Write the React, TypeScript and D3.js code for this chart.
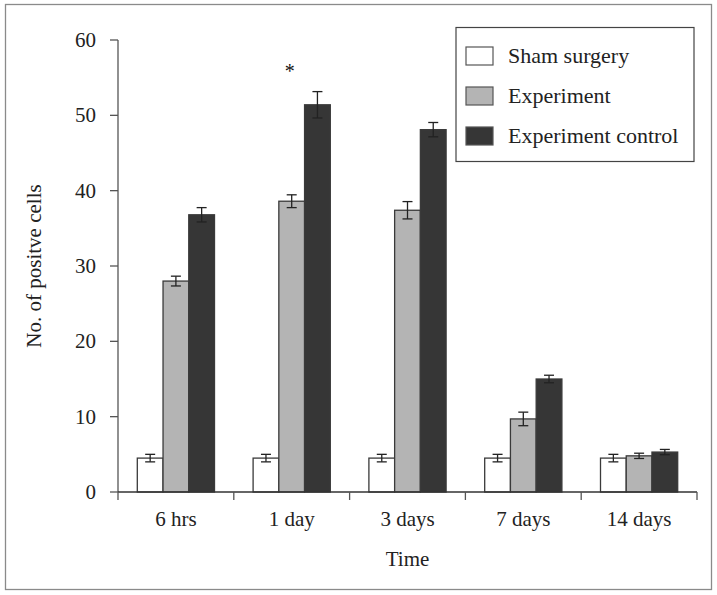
import React from "react";
import * as d3 from "d3";

const categories = ["6 hrs", "1 day", "3 days", "7 days", "14 days"];
const seriesNames = ["Sham surgery", "Experiment", "Experiment control"];
const shamValues = [4.5, 4.5, 4.5, 4.5, 4.5];
const shamErrors = [0.5, 0.5, 0.5, 0.5, 0.5];
const experimentValues = [28.0, 38.6, 37.4, 9.7, 4.8];
const experimentErrors = [0.65, 0.85, 1.15, 0.9, 0.35];
const controlValues = [36.8, 51.4, 48.1, 15.0, 5.3];
const controlErrors = [0.95, 1.75, 0.95, 0.5, 0.35];
const yTicks = [0, 10, 20, 30, 40, 50, 60];
const starCategory = "1 day";
const starValue = 56.0;

const fills = ["#ffffff", "#b4b4b4", "#363636"];
const FONT = "'Liberation Serif', 'Times New Roman', serif";

export default function App() {
  const W = 717, H = 595;
  const left = 118, right = 697, top = 40, bottom = 492;
  const y = d3.scaleLinear().domain([0, 60]).range([bottom, top]);
  const x0 = d3.scaleBand<string>().domain(categories).range([left, right]).paddingInner(0).paddingOuter(0);
  const bw = x0.bandwidth();
  const x1 = d3.scaleBand<string>().domain(seriesNames).range([bw / 6, (bw * 5) / 6]).padding(0);
  const allValues = [shamValues, experimentValues, controlValues];
  const allErrors = [shamErrors, experimentErrors, controlErrors];
  const dividers = categories.map((c) => x0(c)!).concat([right]);

  return (
    <svg width={W} height={H} style={{ position: "absolute", left: 0, top: 0, background: "#fff" }} fontFamily={FONT}>
      <rect x={5.5} y={4.5} width={706} height={585} fill="#fff" stroke="#8a8a8a" strokeWidth={1.3} />
      {categories.map((c, ci) => (
        <g key={c}>
          {seriesNames.map((s, si) => {
            const v = allValues[si][ci];
            const e = allErrors[si][ci];
            const bx = x0(c)! + x1(s)!;
            const w = x1.bandwidth();
            const cx = bx + w / 2;
            return (
              <g key={s}>
                <rect x={bx} y={y(v)} width={w} height={bottom - y(v)} fill={fills[si]} stroke="#3a3a3a" strokeWidth={1.3} />
                <line x1={cx} x2={cx} y1={y(v + e)} y2={y(v - e)} stroke="#222" strokeWidth={1.3} />
                <line x1={cx - 5} x2={cx + 5} y1={y(v + e)} y2={y(v + e)} stroke="#222" strokeWidth={1.3} />
                <line x1={cx - 5} x2={cx + 5} y1={y(v - e)} y2={y(v - e)} stroke="#222" strokeWidth={1.3} />
              </g>
            );
          })}
        </g>
      ))}
      <text x={x0(starCategory)! + bw / 2 - 2} y={y(starValue) + 8} fontSize={20} textAnchor="middle" fill="#111">*</text>
      <line x1={left} x2={left} y1={top} y2={bottom} stroke="#555" strokeWidth={1.3} />
      {yTicks.map((t) => (
        <g key={t}>
          <line x1={left - 8} x2={left} y1={y(t)} y2={y(t)} stroke="#555" strokeWidth={1.3} />
          <text x={96} y={y(t) + 7} fontSize={21} textAnchor="end" fill="#222">{t}</text>
        </g>
      ))}
      <line x1={left} x2={right} y1={bottom} y2={bottom} stroke="#333" strokeWidth={1.3} />
      {dividers.map((d, i) => (
        <line key={i} x1={d} x2={d} y1={bottom} y2={bottom + 8} stroke="#555" strokeWidth={1.3} />
      ))}
      {categories.map((c) => (
        <text key={c} x={x0(c)! + bw / 2} y={526} fontSize={21} textAnchor="middle" fill="#222">{c}</text>
      ))}
      <text x={(left + right) / 2} y={566} fontSize={21} textAnchor="middle" fill="#222">Time</text>
      <text transform={`translate(41,266) rotate(-90)`} fontSize={21} textAnchor="middle" fill="#222">No. of positve cells</text>
      <rect x={456} y={27.5} width={238} height={134} fill="#fff" stroke="#444" strokeWidth={1.2} />
      {seriesNames.map((s, i) => (
        <g key={s}>
          <rect x={466} y={47 + i * 40} width={27} height={18} fill={fills[i]} stroke="#555" strokeWidth={1.2} />
          <text x={508} y={63 + i * 40} fontSize={22} fill="#222">{s}</text>
        </g>
      ))}
    </svg>
  );
}
